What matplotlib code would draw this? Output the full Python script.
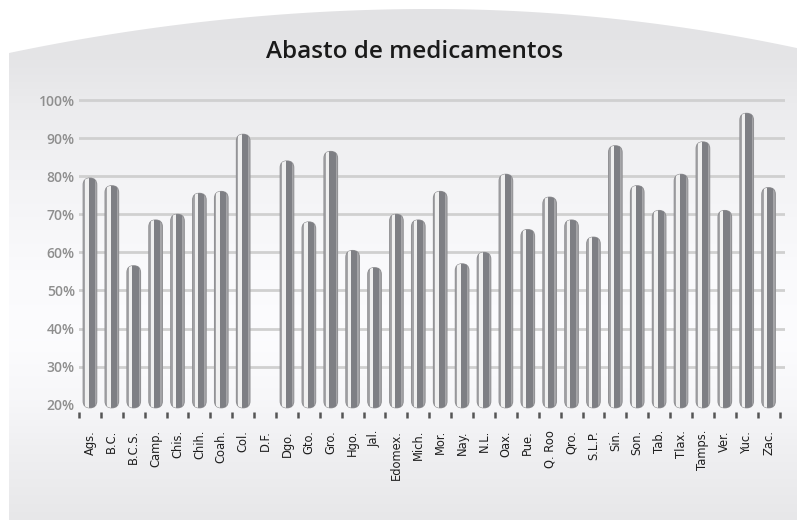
import numpy as np
import matplotlib
matplotlib.use("Agg")
import matplotlib.pyplot as plt
from matplotlib.patches import FancyBboxPatch, Polygon, BoxStyle

# ── Datos ──────────────────────────────────────────────────────────────
estados = ["Ags.", "B.C.", "B.C.S.", "Camp.", "Chis.", "Chih.", "Coah.", "Col.",
           "D.F.", "Dgo.", "Gto.", "Gro.", "Hgo.", "Jal.", "Edomex.", "Mich.",
           "Mor.", "Nay.", "N.L.", "Oax.", "Pue.", "Q. Roo", "Qro.", "S.L.P.",
           "Sin.", "Son.", "Tab.", "Tlax.", "Tamps.", "Ver.", "Yuc.", "Zac."]
abasto = [79.5, 77.5, 56.5, 68.5, 70, 75.5, 76, 91,
          np.nan, 84, 68, 86.5, 60.5, 56, 70, 68.5,
          76, 57, 60, 80.5, 66, 74.5, 68.5, 64,
          88, 77.5, 71, 80.5, 89, 71, 96.5, 77]
y_ticks = [20, 30, 40, 50, 60, 70, 80, 90, 100]
titulo = "Abasto de medicamentos"

# ── Figura ─────────────────────────────────────────────────────────────
W, H = 797, 520
fig = plt.figure(figsize=(W / 100, H / 100), dpi=100)
fig.patch.set_facecolor("white")

# fondo con degradado y borde superior curvo
bg = fig.add_axes([0, 0, 1, 1], zorder=0)
bg.set_xlim(0, W)
bg.set_ylim(H, 0)
bg.axis("off")
stops_y = [0, 60, 110, 190, 270, 340, 400, 445, 520]
stops_v = [226, 229, 236, 244, 250, 252, 247, 240, 231]
lv = np.interp(np.arange(H), stops_y, stops_v) / 255
img = np.stack([lv, lv, np.minimum(lv + 0.008, 1)], axis=-1)[:, None, :]
im = bg.imshow(img, extent=(0, W, H, 0), aspect="auto", interpolation="bilinear")
xs = np.linspace(9, W, 300)
top = np.where(xs < 430, 9 + 44 * ((xs - 430) / 421) ** 2, 9 + 2.9e-4 * (xs - 430) ** 2)
panel = Polygon(list(zip(xs, top)) + [(W, H), (9, H)], closed=True,
                transform=bg.transData, facecolor="none", edgecolor="none")
bg.add_patch(panel)
im.set_clip_path(panel)

fig.text(415 / W, 1 - 52 / H, titulo, ha="center", va="center",
         fontsize=17.5, fontweight="semibold", family="Open Sans", color="#1a1a1a")

# ── Ejes ───────────────────────────────────────────────────────────────
ax_l, ax_r, ax_t, ax_b = 79, 785, 98.1, 412
y_lo, y_hi = 18.1, 100.5
ax = fig.add_axes([ax_l / W, 1 - ax_b / H, (ax_r - ax_l) / W, (ax_b - ax_t) / H], zorder=1)
ax.patch.set_alpha(0)
n = len(estados)
x = np.arange(n)
ax.set_xlim(-0.5, n - 0.25)
ax.set_ylim(y_lo, y_hi)
for s in ax.spines.values():
    s.set_visible(False)

for g in y_ticks[1:]:
    ax.axhline(g, color="#d0d0d0", lw=2, zorder=1)

ax.set_yticks(y_ticks)
ax.set_yticklabels([f"{v}%" for v in y_ticks], fontsize=10, fontweight="semibold",
                   family="Open Sans", color="#8e8e8e")
ax.tick_params(axis="y", length=0, pad=3)

ax.set_xticks(x)
ax.set_xticklabels(estados, rotation=90, fontsize=8.3, color="#1e1e1e", va="top")
ax.set_xticks(np.arange(n + 1) - 0.5, minor=True)
ax.tick_params(axis="x", which="major", length=0, pad=13)
ax.tick_params(axis="x", which="minor", length=4.5, width=1.8, color="#555555", direction="out", pad=0)

# barras tipo cilindro con extremos redondeados
px_x = (ax_r - ax_l) / (n - 0.25 + 0.5)
px_y = (ax_b - ax_t) / (y_hi - y_lo)
aspect = px_x / px_y
bw = 0.62
base = 19.2
for xi, v in zip(x, abasto):
    if np.isnan(v):
        continue
    pill = FancyBboxPatch((xi - bw / 2, base), bw, v - base,
                          boxstyle=BoxStyle.Round(pad=0, rounding_size=bw / 2),
                          mutation_aspect=aspect, facecolor="#a6a6a9",
                          edgecolor="#929295", lw=0.8, zorder=3)
    ax.add_patch(pill)
    hi = ax.bar(xi - 0.14, v - base, bottom=base, width=0.16, color="#f0f0f0", zorder=4)
    dk = ax.bar(xi + 0.08, v - base, bottom=base, width=0.28, color="#7e7f84", zorder=4)
    for b in list(hi) + list(dk):
        b.set_clip_path(pill)

fig.savefig("out.png", dpi=100)
